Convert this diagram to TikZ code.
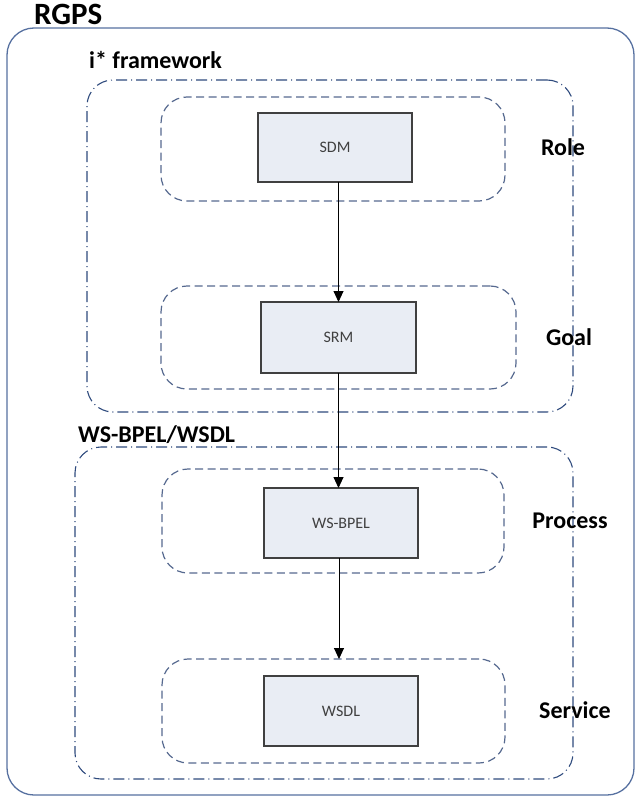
\documentclass[tikz,border=0pt]{standalone}
\usepackage{fontspec}
\setmainfont{Carlito}
\usetikzlibrary{arrows.meta}
\definecolor{outerblue}{HTML}{5670A0}
\definecolor{dashdotblue}{HTML}{2E4A7D}
\definecolor{dashblue}{HTML}{56698F}
\definecolor{boxfill}{HTML}{E9EDF4}
\definecolor{boxdraw}{HTML}{404040}
\begin{document}
\begin{tikzpicture}[x=1pt,y=-1pt,
  outerbox/.style={draw=outerblue,line width=1.3pt,rounded corners=27pt,inner sep=0pt,outer sep=0pt},
  groupbox/.style={draw=dashdotblue,line width=1.1pt,rounded corners=26pt,inner sep=0pt,outer sep=0pt,
    dash pattern=on 11pt off 4pt on 1pt off 4pt},
  layerbox/.style={draw=dashblue,line width=1.2pt,rounded corners=26pt,inner sep=0pt,outer sep=0pt,
    dash pattern=on 8pt off 4.5pt},
  modelbox/.style={draw=boxdraw,fill=boxfill,line width=1.1pt,inner sep=0pt,outer sep=0pt,
    font=\fontsize{16}{19}\selectfont,text=boxdraw},
  title/.style={font=\bfseries\fontsize{24}{28}\selectfont,inner sep=0pt},
  bigtitle/.style={font=\bfseries\fontsize{31}{36}\selectfont,inner sep=0pt},
  flow/.style={draw=black,line width=0.9pt,-{Triangle[length=11pt,width=10pt]}}]
\useasboundingbox (0,0) rectangle (640,797);
% containers
\node[outerbox,minimum width=627pt,minimum height=767pt] (rgps) at (320.5,411.5) {};
\node[groupbox,minimum width=486pt,minimum height=332pt] (istar) at (330,246) {};
\node[groupbox,minimum width=498pt,minimum height=332pt] (ws) at (324,613) {};
\node[layerbox,minimum width=344pt,minimum height=104pt] (role) at (333,149) {};
\node[layerbox,minimum width=355pt,minimum height=103pt] (goal) at (338.5,337.5) {};
\node[layerbox,minimum width=342pt,minimum height=104pt] (process) at (333,521) {};
\node[layerbox,minimum width=343pt,minimum height=104pt] (service) at (333.5,711) {};
% titles
\node[bigtitle,anchor=base west] (trgps) at (34,25) {RGPS};
\node[title,anchor=base west] (tistar) at (89,69) {i* framework};
\node[title,anchor=base west] (tws) at (78,442) {WS-BPEL/WSDL};
\node[title,anchor=base] (trole) at (563,155) {Role};
\node[title,anchor=base] (tgoal) at (569,345) {Goal};
\node[title,anchor=base] (tprocess) at (570,528) {Process};
\node[title,anchor=base] (tservice) at (575,718) {Service};
% models
\node[modelbox,minimum width=154pt,minimum height=69pt] (sdm) at (335,147.5) {SDM};
\node[modelbox,minimum width=155pt,minimum height=71pt] (srm) at (338.5,337.5) {SRM};
\node[modelbox,minimum width=154pt,minimum height=70pt] (wsbpel) at (341,523) {WS-BPEL};
\node[modelbox,minimum width=154pt,minimum height=70pt] (wsdl) at (341,711) {WSDL};
% connectors
\draw[flow] (sdm.south -| srm.north) -- (srm.north);
\draw[flow] (srm.south) -- (srm.south |- wsbpel.north);
\draw[flow] (wsbpel.south -| 339,0) -- (service.north -| 339,0);
\end{tikzpicture}
\end{document}
